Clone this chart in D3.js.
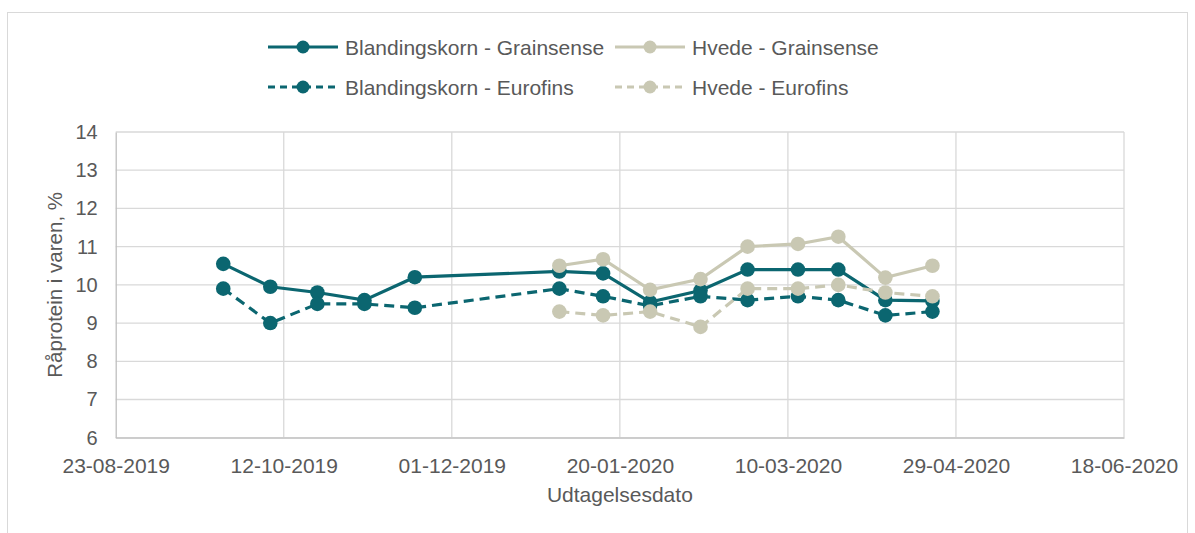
<!DOCTYPE html>
<html>
<head>
<meta charset="utf-8">
<script src="https://cdn.jsdelivr.net/npm/d3@7"></script>
<style>
  body { margin: 0; background: #fff; }
  text { font-family: "Liberation Sans", Arial, sans-serif; fill: #595959; }
</style>
</head>
<body>
<svg id="chart"></svg>
<script>
// sample dates and protein values (%)
const dates = ["2019-09-24", "2019-10-08", "2019-10-22", "2019-11-05", "2019-11-20",
  "2020-01-02", "2020-01-15", "2020-01-29", "2020-02-13", "2020-02-27",
  "2020-03-13", "2020-03-25", "2020-04-08", "2020-04-22"];
const blandGrain = [10.55, 9.95, 9.8, 9.6, 10.2, 10.35, 10.3, 9.55, 9.85, 10.4, 10.4, 10.4, 9.6, 9.58];
const hvedeGrain = [null, null, null, null, null, 10.5, 10.67, 9.87, 10.15, 11.0, 11.07, 11.26, 10.19, 10.5];
const blandEuro = [9.9, 9.0, 9.5, 9.5, 9.4, 9.9, 9.7, 9.45, 9.7, 9.6, 9.7, 9.6, 9.2, 9.3];
const hvedeEuro = [null, null, null, null, null, 9.3, 9.2, 9.3, 8.9, 9.9, 9.9, 10.0, 9.8, 9.7];

const xTicks = ["2019-08-23", "2019-10-12", "2019-12-01", "2020-01-20", "2020-03-10", "2020-04-29", "2020-06-18"];
const yTicks = [6, 7, 8, 9, 10, 11, 12, 13, 14];

const WIDTH = 1195;
const HEIGHT = 533;
const MARGIN = { top: 132, bottom: 95.3, left: 115.7, right: 71 };

const TEAL = "#0b6670";
const BEIGE = "#c9c8b3";

const parse = d3.timeParse("%Y-%m-%d");
const fmt = d3.timeFormat("%d-%m-%Y");

const svg = d3.select("#chart")
  .attr("width", WIDTH)
  .attr("height", HEIGHT);

// outer frame
svg.append("rect")
  .attr("x", 7.5).attr("y", 12.5)
  .attr("width", 1180).attr("height", 540)
  .attr("fill", "none")
  .attr("stroke", "#d9d9d9");

const escalaX = d3.scaleTime()
  .domain([parse(xTicks[0]), parse(xTicks[xTicks.length - 1])])
  .range([MARGIN.left, WIDTH - MARGIN.right]);

const escalaY = d3.scaleLinear()
  .domain([6, 14])
  .range([HEIGHT - MARGIN.bottom, MARGIN.top]);

// grid
svg.append("g")
  .selectAll("line.h")
  .data(yTicks)
  .join("line")
  .attr("x1", MARGIN.left).attr("x2", WIDTH - MARGIN.right)
  .attr("y1", d => escalaY(d)).attr("y2", d => escalaY(d))
  .attr("stroke", "#d9d9d9").attr("stroke-width", 1.3);

svg.append("g")
  .selectAll("line.v")
  .data(xTicks.slice(1))
  .join("line")
  .attr("x1", d => escalaX(parse(d))).attr("x2", d => escalaX(parse(d)))
  .attr("y1", MARGIN.top).attr("y2", HEIGHT - MARGIN.bottom)
  .attr("stroke", "#d9d9d9").attr("stroke-width", 1.3);

// axes
const ejeX = d3.axisBottom(escalaX)
  .tickValues(xTicks.map(parse))
  .tickFormat(fmt)
  .tickSize(0)
  .tickPadding(20);

const gx = svg.append("g")
  .attr("transform", `translate(0, ${HEIGHT - MARGIN.bottom})`)
  .call(ejeX);
gx.select(".domain").attr("stroke", "#bfbfbf").attr("stroke-width", 1.3);
gx.selectAll("text").attr("font-size", 21).attr("fill", "#595959");

const ejeY = d3.axisLeft(escalaY)
  .tickValues(yTicks)
  .tickSize(0)
  .tickPadding(18);

const gy = svg.append("g")
  .attr("transform", `translate(${MARGIN.left}, 0)`)
  .call(ejeY);
gy.select(".domain").attr("stroke", "#bfbfbf").attr("stroke-width", 1.3);
gy.selectAll("text").attr("font-size", 20).attr("fill", "#595959");
svg.selectAll(".tick text").style("font-family", "'Liberation Sans', Arial, sans-serif");

// axis titles
svg.append("text")
  .attr("x", (MARGIN.left + WIDTH - MARGIN.right) / 2)
  .attr("y", 502)
  .attr("text-anchor", "middle")
  .attr("font-size", 21)
  .text("Udtagelsesdato");

svg.append("text")
  .attr("transform", `translate(62, ${(MARGIN.top + HEIGHT - MARGIN.bottom) / 2}) rotate(-90)`)
  .attr("text-anchor", "middle")
  .attr("font-size", 20.5)
  .text("Råprotein i varen, %");

// series
const series = [
  { name: "Blandingskorn - Grainsense", values: blandGrain, color: TEAL, dash: null },
  { name: "Hvede - Grainsense", values: hvedeGrain, color: BEIGE, dash: null },
  { name: "Blandingskorn - Eurofins", values: blandEuro, color: TEAL, dash: "10,6" },
  { name: "Hvede - Eurofins", values: hvedeEuro, color: BEIGE, dash: "10,6" }
];

const line = d3.line()
  .defined(d => d.v != null)
  .x(d => escalaX(d.date))
  .y(d => escalaY(d.v));

series.forEach(s => {
  const pts = dates.map((d, i) => ({ date: parse(d), v: s.values[i] }));
  const g = svg.append("g");
  g.append("path")
    .datum(pts)
    .attr("d", line)
    .attr("fill", "none")
    .attr("stroke", s.color)
    .attr("stroke-width", 3.2)
    .attr("stroke-dasharray", s.dash);
  g.selectAll("circle")
    .data(pts.filter(p => p.v != null))
    .join("circle")
    .attr("cx", p => escalaX(p.date))
    .attr("cy", p => escalaY(p.v))
    .attr("r", 7.3)
    .attr("fill", s.color);
});

// legend
const legendX = [268, 615];
const legendY = [47, 87];
series.forEach((s, i) => {
  const x0 = legendX[i % 2];
  const y0 = legendY[Math.floor(i / 2)];
  const g = svg.append("g").attr("transform", `translate(${x0}, ${y0})`);
  g.append("line")
    .attr("x1", 0).attr("x2", 70)
    .attr("stroke", s.color)
    .attr("stroke-width", 3.2)
    .attr("stroke-dasharray", s.dash ? "7,5" : null);
  g.append("circle").attr("cx", 35).attr("r", 6.5).attr("fill", s.color);
  g.append("text")
    .attr("x", 77)
    .attr("y", 7.5)
    .attr("font-size", 21)
    .text(s.name);
});
</script>
</body>
</html>
